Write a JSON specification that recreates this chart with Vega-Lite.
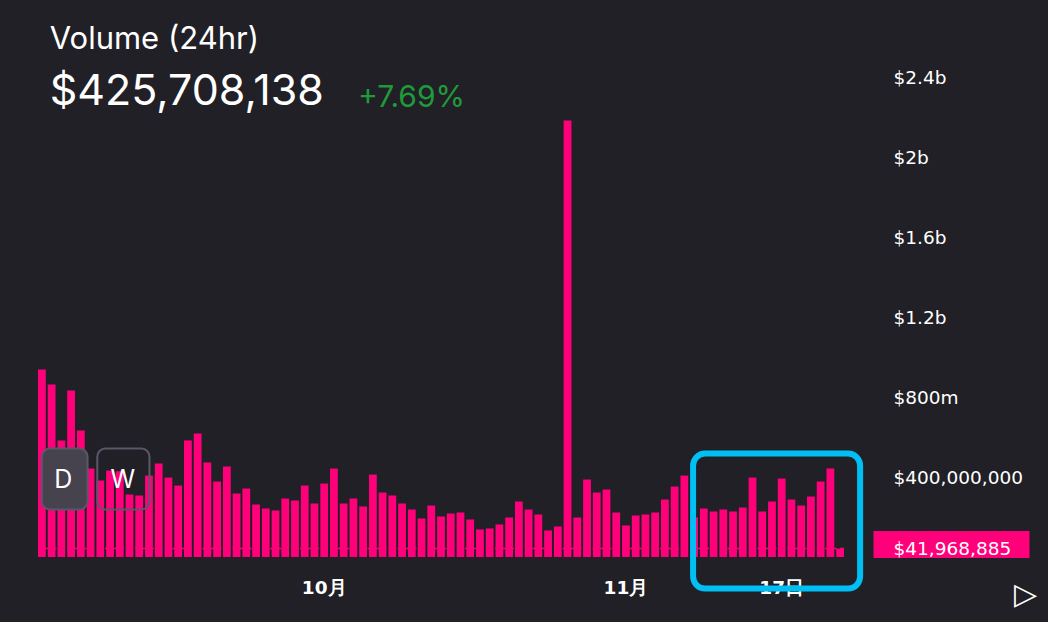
{
  "$schema": "https://vega.github.io/schema/vega-lite/v6.json",
  "width": 806,
  "height": 517,
  "autosize": {"type": "none"},
  "padding": {"left": 38, "top": 40, "right": 204, "bottom": 65},
  "background": "#212026",
  "config": {"view": {"stroke": null}},
  "data": {"values": [
    {"date": "2020-09-02", "volume": 939000000},
    {"date": "2020-09-03", "volume": 864000000},
    {"date": "2020-09-04", "volume": 584000000},
    {"date": "2020-09-05", "volume": 834000000},
    {"date": "2020-09-06", "volume": 634000000},
    {"date": "2020-09-07", "volume": 443000000},
    {"date": "2020-09-08", "volume": 383000000},
    {"date": "2020-09-09", "volume": 433000000},
    {"date": "2020-09-10", "volume": 430000000},
    {"date": "2020-09-11", "volume": 313000000},
    {"date": "2020-09-12", "volume": 308000000},
    {"date": "2020-09-13", "volume": 408000000},
    {"date": "2020-09-14", "volume": 468000000},
    {"date": "2020-09-15", "volume": 398000000},
    {"date": "2020-09-16", "volume": 358000000},
    {"date": "2020-09-17", "volume": 584000000},
    {"date": "2020-09-18", "volume": 619000000},
    {"date": "2020-09-19", "volume": 473000000},
    {"date": "2020-09-20", "volume": 378000000},
    {"date": "2020-09-21", "volume": 453000000},
    {"date": "2020-09-22", "volume": 318000000},
    {"date": "2020-09-23", "volume": 343000000},
    {"date": "2020-09-24", "volume": 263000000},
    {"date": "2020-09-25", "volume": 243000000},
    {"date": "2020-09-26", "volume": 233000000},
    {"date": "2020-09-27", "volume": 293000000},
    {"date": "2020-09-28", "volume": 283000000},
    {"date": "2020-09-29", "volume": 358000000},
    {"date": "2020-09-30", "volume": 268000000},
    {"date": "2020-10-01", "volume": 368000000},
    {"date": "2020-10-02", "volume": 443000000},
    {"date": "2020-10-03", "volume": 268000000},
    {"date": "2020-10-04", "volume": 293000000},
    {"date": "2020-10-05", "volume": 253000000},
    {"date": "2020-10-06", "volume": 413000000},
    {"date": "2020-10-07", "volume": 323000000},
    {"date": "2020-10-08", "volume": 308000000},
    {"date": "2020-10-09", "volume": 268000000},
    {"date": "2020-10-10", "volume": 238000000},
    {"date": "2020-10-11", "volume": 193000000},
    {"date": "2020-10-12", "volume": 258000000},
    {"date": "2020-10-13", "volume": 203000000},
    {"date": "2020-10-14", "volume": 218000000},
    {"date": "2020-10-15", "volume": 223000000},
    {"date": "2020-10-16", "volume": 188000000},
    {"date": "2020-10-17", "volume": 138000000},
    {"date": "2020-10-18", "volume": 143000000},
    {"date": "2020-10-19", "volume": 163000000},
    {"date": "2020-10-20", "volume": 198000000},
    {"date": "2020-10-21", "volume": 278000000},
    {"date": "2020-10-22", "volume": 238000000},
    {"date": "2020-10-23", "volume": 213000000},
    {"date": "2020-10-24", "volume": 133000000},
    {"date": "2020-10-25", "volume": 153000000},
    {"date": "2020-10-26", "volume": 2187000000},
    {"date": "2020-10-27", "volume": 198000000},
    {"date": "2020-10-28", "volume": 388000000},
    {"date": "2020-10-29", "volume": 323000000},
    {"date": "2020-10-30", "volume": 338000000},
    {"date": "2020-10-31", "volume": 223000000},
    {"date": "2020-11-01", "volume": 158000000},
    {"date": "2020-11-02", "volume": 208000000},
    {"date": "2020-11-03", "volume": 213000000},
    {"date": "2020-11-04", "volume": 223000000},
    {"date": "2020-11-05", "volume": 288000000},
    {"date": "2020-11-06", "volume": 353000000},
    {"date": "2020-11-07", "volume": 408000000},
    {"date": "2020-11-08", "volume": 198000000},
    {"date": "2020-11-09", "volume": 243000000},
    {"date": "2020-11-10", "volume": 228000000},
    {"date": "2020-11-11", "volume": 238000000},
    {"date": "2020-11-12", "volume": 228000000},
    {"date": "2020-11-13", "volume": 248000000},
    {"date": "2020-11-14", "volume": 398000000},
    {"date": "2020-11-15", "volume": 228000000},
    {"date": "2020-11-16", "volume": 278000000},
    {"date": "2020-11-17", "volume": 393000000},
    {"date": "2020-11-18", "volume": 288000000},
    {"date": "2020-11-19", "volume": 258000000},
    {"date": "2020-11-20", "volume": 303000000},
    {"date": "2020-11-21", "volume": 378000000},
    {"date": "2020-11-22", "volume": 443000000},
    {"date": "2020-11-23", "volume": 41968885}
  ]},
  "layer": [
    {
      "data": {"values": [{}]},
      "mark": {"type": "rule", "color": "#ff007a", "strokeDash": [4, 3.5], "strokeWidth": 1.5, "x2Offset": 25},
      "encoding": {"y": {"datum": 41968885, "type": "quantitative"}}
    },
    {
      "mark": {"type": "bar", "color": "#ff007a"},
      "encoding": {
        "x": {
          "field": "date", "type": "ordinal",
          "scale": {"paddingInner": 0.2, "paddingOuter": 0},
          "axis": {
            "values": ["2020-10-01", "2020-11-01", "2020-11-17"],
            "labelExpr": "datum.value == '2020-10-01' ? '10月' : datum.value == '2020-11-01' ? '11月' : '17日'",
            "labelAngle": 0, "labelColor": "#ffffff", "labelFont": "DejaVu Sans", "labelFontSize": 18.5, "labelFontWeight": "bold",
            "labelBaseline": "middle", "labelPadding": 30, "ticks": false, "domain": false, "grid": false,
            "title": "▷", "titleColor": "#ffffff", "titleFont": "DejaVu Sans", "titleFontSize": 30, "titleFontWeight": "bold",
            "titleX": 987, "titleY": 37, "titleAlign": "center", "titleBaseline": "middle", "titleAngle": 0
          }
        },
        "y": {
          "field": "volume", "type": "quantitative",
          "scale": {"domain": [0, 2590000000], "nice": false},
          "axis": {
            "orient": "right", "offset": 29,
            "values": [41968885, 400000000, 800000000, 1200000000, 1600000000, 2000000000, 2400000000],
            "labelExpr": "datum.value < 100000000 ? '$41,968,885' : datum.value == 400000000 ? '$400,000,000' : datum.value == 800000000 ? '$800m' : datum.value == 1200000000 ? '$1.2b' : datum.value == 1600000000 ? '$1.6b' : datum.value == 2000000000 ? '$2b' : '$2.4b'",
            "grid": false, "domain": false, "ticks": true, "tickSize": 156, "tickColor": "#ff007a",
            "tickWidth": {"condition": {"test": "datum.value < 100000000", "value": 27}, "value": 0},
            "tickOpacity": {"condition": {"test": "datum.value < 100000000", "value": 1}, "value": 0},
            "tickOffset": -4.5, "labelOffset": 4.5, "labelPadding": -136,
            "labelAlign": "left", "labelBaseline": "middle", "labelColor": "#ffffff", "labelFont": "DejaVu Sans", "labelFontSize": 18.5,
            "labelOverlap": false, "labelBound": false, "labelFlush": false, "title": null
          }
        }
      }
    },
    {
      "data": {"values": [{}]},
      "mark": {"type": "rect", "fill": "#46434f", "stroke": "#5a5768", "strokeWidth": 2, "cornerRadius": 8, "x2Offset": -3},
      "encoding": {
        "x": {"datum": "2020-09-02", "type": "ordinal"}, "x2": {"datum": "2020-09-07"},
        "y": {"datum": 543000000, "type": "quantitative"}, "y2": {"datum": 238000000}
      }
    },
    {
      "data": {"values": [{}]},
      "mark": {"type": "rect", "filled": false, "stroke": "#5a5768", "strokeWidth": 2, "cornerRadius": 8, "xOffset": -3, "x2Offset": 0.5},
      "encoding": {
        "x": {"datum": "2020-09-08", "type": "ordinal"}, "x2": {"datum": "2020-09-13"},
        "y": {"datum": 543000000, "type": "quantitative"}, "y2": {"datum": 238000000}
      }
    },
    {
      "data": {"values": [{}]},
      "mark": {"type": "text", "text": "D", "font": "Inter", "fontSize": 25, "color": "#ffffff", "align": "center", "baseline": "middle", "dx": 2},
      "encoding": {"x": {"datum": "2020-09-04", "type": "ordinal"}, "y": {"datum": 385700000, "type": "quantitative"}}
    },
    {
      "data": {"values": [{}]},
      "mark": {"type": "text", "text": "W", "font": "Inter", "fontSize": 25, "color": "#ffffff", "align": "center", "baseline": "middle", "dx": 3},
      "encoding": {"x": {"datum": "2020-09-10", "type": "ordinal"}, "y": {"datum": 385700000, "type": "quantitative"}}
    },
    {
      "data": {"values": [{}]},
      "mark": {"type": "rect", "filled": false, "stroke": "#00bff5", "strokeWidth": 6, "cornerRadius": 12, "xOffset": -1, "x2Offset": 20},
      "encoding": {
        "x": {"datum": "2020-11-08", "type": "ordinal"}, "x2": {"datum": "2020-11-23"},
        "y": {"datum": 518000000, "type": "quantitative"}, "y2": {"datum": -158000000}
      }
    },
    {
      "data": {"values": [{}]},
      "mark": {"type": "text", "text": "Volume (24hr)", "font": "Inter", "fontSize": 31, "color": "#ffffff", "align": "left", "baseline": "alphabetic", "dx": -1.9},
      "encoding": {"x": {"datum": "2020-09-03", "type": "ordinal"}, "y": {"datum": 2543400000, "type": "quantitative"}}
    },
    {
      "data": {"values": [{}]},
      "mark": {"type": "text", "text": "$425,708,138", "font": "Inter", "fontSize": 43, "color": "#ffffff", "align": "left", "baseline": "alphabetic", "dx": -1.9},
      "encoding": {"x": {"datum": "2020-09-03", "type": "ordinal"}, "y": {"datum": 2264000000, "type": "quantitative"}}
    },
    {
      "data": {"values": [{}]},
      "mark": {"type": "text", "text": "+7.69%", "font": "Inter", "fontSize": 30, "color": "#1f9a3a", "align": "left", "baseline": "alphabetic", "dx": 4.6},
      "encoding": {"x": {"datum": "2020-10-04", "type": "ordinal"}, "y": {"datum": 2252900000, "type": "quantitative"}}
    }
  ]
}
